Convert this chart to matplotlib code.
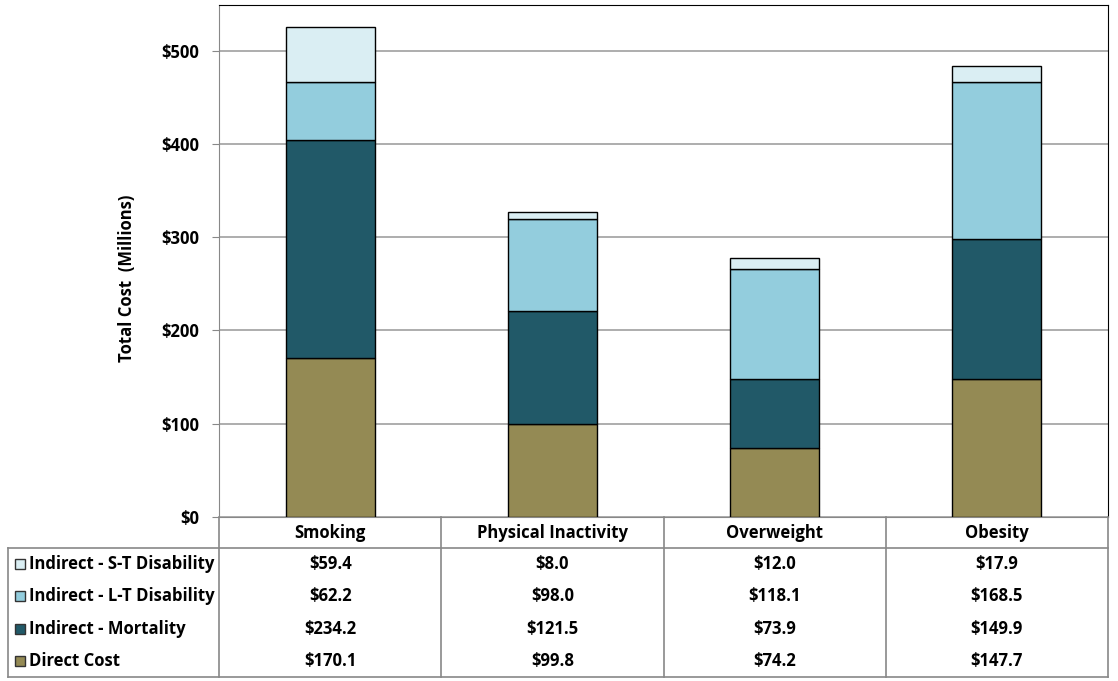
import matplotlib.pyplot as plt
import numpy as np

plt.rcParams['font.family'] = ['Open Sans', 'DejaVu Sans']
plt.rcParams['font.weight'] = 'bold'

categories = ['Smoking', 'Physical Inactivity', 'Overweight', 'Obesity']
series_names = ['Direct Cost', 'Indirect - Mortality', 'Indirect - L-T Disability', 'Indirect - S-T Disability']
direct_cost = [170.1, 99.8, 74.2, 147.7]
mortality = [234.2, 121.5, 73.9, 149.9]
lt_disability = [62.2, 98.0, 118.1, 168.5]
st_disability = [59.4, 8.0, 12.0, 17.9]
colors = ['#948A54', '#215968', '#93CDDD', '#DAEEF3']
yticks = [0, 100, 200, 300, 400, 500]

values = [direct_cost, mortality, lt_disability, st_disability]
FS = 12

W, H = 1118, 681
fig = plt.figure(figsize=(W / 100, H / 100), dpi=100)

# pixel box of the plot area
left, right, top, bottom = 219, 1108, 5, 517
ax = fig.add_axes([left / W, 1 - bottom / H, (right - left) / W, (bottom - top) / H])

x = np.arange(len(categories))
base = np.zeros(len(categories))
for vals, col in zip(values, colors):
    ax.bar(x, vals, 0.4, bottom=base, color=col, edgecolor='black', linewidth=1, zorder=3)
    base += np.array(vals)

ax.set_xlim(-0.5, len(categories) - 0.5)
ax.set_ylim(0, 549)
ax.set_yticks(yticks)
ax.set_yticklabels([f'${v}' for v in yticks], fontsize=FS, fontweight='bold')
ax.set_xticks([])
ax.yaxis.grid(True, color='#a0a0a0', linewidth=1.2, zorder=0)
ax.tick_params(axis='y', length=5, color='#888888', pad=9)
for s in ['top', 'right']:
    ax.spines[s].set_color('black')
ax.spines['left'].set_color('#888888')
ax.spines['bottom'].set_color('#888888')
ax.set_ylabel('Total Cost  (Millions)', fontsize=FS, fontweight='bold')
ax.yaxis.set_label_coords((127 - left) / (right - left), (bottom - 278) / (bottom - top))
ax.yaxis.label.set_va('center')

# data table under the chart
tleft, tbottom = 8, 677
tax = fig.add_axes([0, 0, 1, 1], facecolor='none')
tax.set_xlim(0, W)
tax.set_ylim(H, 0)
tax.axis('off')

col_edges = np.linspace(left, right, len(categories) + 1)
header_bot = 548
row_h = (tbottom - header_bot) / len(series_names)
line_kw = dict(color='#888888', linewidth=1.2)

tax.plot([tleft, right], [header_bot, header_bot], **line_kw)
tax.plot([tleft, right], [tbottom, tbottom], **line_kw)
tax.plot([tleft, tleft], [header_bot, tbottom], **line_kw)
for xe in col_edges:
    tax.plot([xe, xe], [bottom, tbottom], **line_kw)

for i, cat in enumerate(categories):
    cx = (col_edges[i] + col_edges[i + 1]) / 2
    tax.text(cx, (bottom + header_bot) / 2, cat, ha='center', va='center', fontsize=FS, fontweight='bold')

# rows listed top-down: S-T first, Direct last
for r, idx in enumerate(reversed(range(len(series_names)))):
    cy = header_bot + row_h * (r + 0.5)
    tax.add_patch(plt.Rectangle((15, cy - 5), 10, 10, facecolor=colors[idx], edgecolor='#333333', linewidth=1))
    tax.text(29, cy, series_names[idx], ha='left', va='center', fontsize=FS, fontweight='bold')
    for i in range(len(categories)):
        cx = (col_edges[i] + col_edges[i + 1]) / 2
        tax.text(cx, cy, f'${values[idx][i]:.1f}', ha='center', va='center', fontsize=FS, fontweight='bold')

fig.savefig('out.png', dpi=100)
